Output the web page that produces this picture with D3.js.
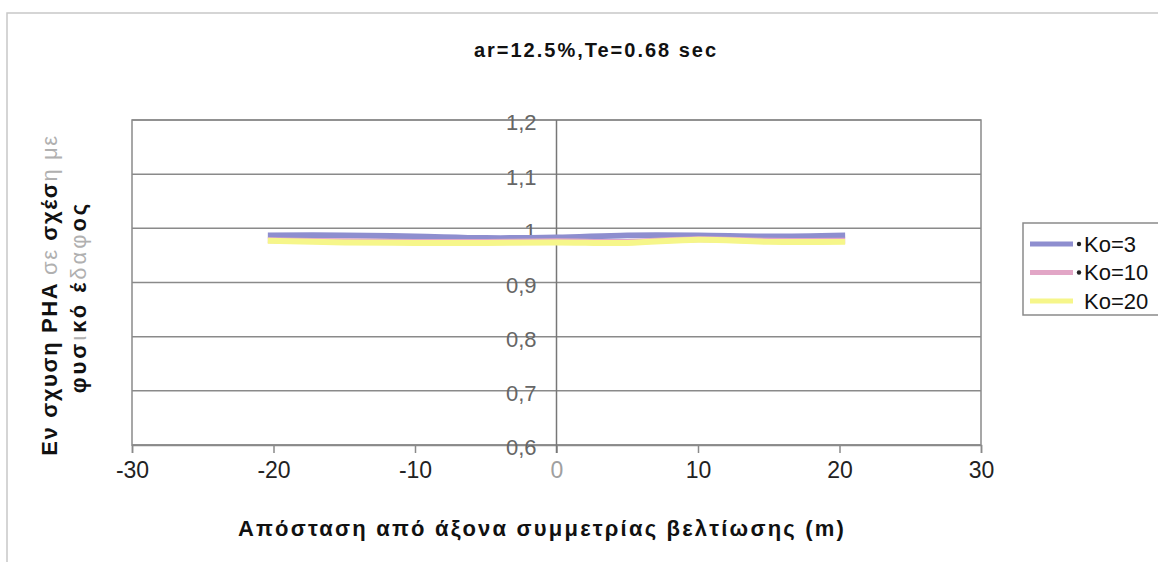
<!DOCTYPE html>
<html>
<head>
<meta charset="utf-8">
<script src="https://cdn.jsdelivr.net/npm/d3@7"></script>
<style>
  body { margin: 0; background: #fff; }
  svg { display: block; font-family: Arial, "Liberation Sans", sans-serif; }
</style>
</head>
<body>
<svg id="chart" width="1158" height="562"></svg>
<script>
// distances from the axis of symmetry (m)
var distances = [-20.4, -15, -10, -5, 0, 5, 10, 15, 20.4];
// ratio PHA improved / natural ground
var ko3 = [0.987, 0.987, 0.985, 0.982, 0.983, 0.987, 0.987, 0.985, 0.987];
var ko10 = [0.978, 0.976, 0.975, 0.975, 0.976, 0.975, 0.980, 0.977, 0.977];
var ko20 = [0.977, 0.974, 0.973, 0.973, 0.974, 0.973, 0.979, 0.975, 0.975];
var seriesNames = ["Ko=3", "Ko=10", "Ko=20"];
var seriesColors = ["#8e8ecf", "#e2a6c6", "#f6f68a"];
var xTicks = [-30, -20, -10, 0, 10, 20, 30];
var yTicks = [0.6, 0.7, 0.8, 0.9, 1, 1.1, 1.2];

var svg = d3.select("#chart");

// outer chart frame
svg.append("rect")
    .attr("x", 7).attr("y", 13)
    .attr("width", 1200).attr("height", 600)
    .attr("fill", "none")
    .attr("stroke", "#c8c8c8")
    .attr("stroke-width", 1.5);

var plotLeft = 132, plotRight = 981, plotTop = 120, plotBottom = 445;

var x = d3.scaleLinear().domain([-30, 30]).range([plotLeft, plotRight]);
var y = d3.scaleLinear().domain([0.6, 1.2]).range([plotBottom, plotTop]);

// horizontal gridlines
svg.append("g")
    .selectAll("line")
    .data(yTicks)
    .enter()
    .append("line")
    .attr("x1", plotLeft).attr("x2", plotRight)
    .attr("y1", d => y(d)).attr("y2", d => y(d))
    .attr("stroke", "#8a8a8a")
    .attr("stroke-width", 1.5);

// plot border
svg.append("rect")
    .attr("x", plotLeft).attr("y", plotTop)
    .attr("width", plotRight - plotLeft).attr("height", plotBottom - plotTop)
    .attr("fill", "none")
    .attr("stroke", "#8a8a8a")
    .attr("stroke-width", 1.5);

// x axis at the bottom
var xAxis = svg.append("g")
    .attr("transform", "translate(0," + plotBottom + ")")
    .call(d3.axisBottom(x).tickValues(xTicks).tickSize(8).tickFormat(d => String(d)));
xAxis.select(".domain").attr("stroke", "#8a8a8a").attr("stroke-width", 1.5);
xAxis.selectAll(".tick line").attr("stroke", "#8a8a8a").attr("stroke-width", 1.5);
xAxis.selectAll(".tick text")
    .attr("y", 17)
    .attr("dy", "0.71em")
    .style("font-size", "23px")
    .attr("fill", d => d === 0 ? "#a0a0a0" : "#222");

// y axis crossing at x = 0
var yAxis = svg.append("g")
    .attr("transform", "translate(" + x(0) + ",0)")
    .call(d3.axisLeft(y).tickValues(yTicks).tickSize(0).tickPadding(20)
        .tickFormat(d => d3.format(".1f")(d).replace(".0", "").replace(".", ",")));
yAxis.select(".domain").attr("stroke", "#777").attr("stroke-width", 1.5)
    .attr("d", "M0," + plotTop + "V" + (plotBottom + 8));
yAxis.selectAll(".tick text")
    .attr("dy", "0.45em")
    .style("font-size", "22px")
    .attr("fill", "#666");

// series lines
var line = d3.line()
    .x(d => x(d[0]))
    .y(d => y(d[1]))
    .curve(d3.curveCatmullRom);

[ko3, ko10, ko20].forEach((vals, i) => {
    svg.append("path")
        .datum(distances.map((d, j) => [d, vals[j]]))
        .attr("d", line)
        .attr("fill", "none")
        .attr("stroke", seriesColors[i])
        .attr("stroke-width", 6);
});

// title
svg.append("text")
    .attr("x", 596).attr("y", 57)
    .attr("text-anchor", "middle")
    .style("font-size", "20px")
    .style("font-weight", "bold")
    .style("letter-spacing", "2px")
    .attr("fill", "#111")
    .text("ar=12.5%,Te=0.68 sec");

// x axis title
svg.append("text")
    .attr("x", 542).attr("y", 536)
    .attr("text-anchor", "middle")
    .style("font-size", "22px")
    .style("font-weight", "bold")
    .style("letter-spacing", "2.2px")
    .attr("fill", "#111")
    .text("Απόσταση από άξονα συμμετρίας βελτίωσης (m)");

// y axis title, two lines, with the faded parts of the scan
var yTitle = svg.append("text")
    .attr("transform", "translate(57,295) rotate(-90)")
    .attr("text-anchor", "middle")
    .style("font-size", "22px")
    .style("font-weight", "bold")
    .style("letter-spacing", "1.6px")
    .attr("fill", "#111");
yTitle.append("tspan").text("Εν σχυση PHA ");
yTitle.append("tspan").attr("fill", "#b0b0b0").style("font-weight", "normal").text("σε");
yTitle.append("tspan").text(" σχέσ");
yTitle.append("tspan").attr("fill", "#b0b0b0").style("font-weight", "normal").text("η με");

var yTitle2 = svg.append("text")
    .attr("transform", "translate(86,297) rotate(-90)")
    .attr("text-anchor", "middle")
    .style("font-size", "22px")
    .style("font-weight", "bold")
    .style("letter-spacing", "3px")
    .attr("fill", "#111");
yTitle2.append("tspan").text("φυσ");
yTitle2.append("tspan").attr("fill", "#b0b0b0").style("font-weight", "normal").text("ι");
yTitle2.append("tspan").text("κό έ");
yTitle2.append("tspan").attr("fill", "#b0b0b0").style("font-weight", "normal").text("δαφ");
yTitle2.append("tspan").text("ος");

// legend
var legend = svg.append("g");
legend.append("rect")
    .attr("x", 1023).attr("y", 223)
    .attr("width", 200).attr("height", 92)
    .attr("fill", "#fff")
    .attr("stroke", "#8a8a8a")
    .attr("stroke-width", 1.5);

var items = legend.selectAll("g.item")
    .data(seriesNames)
    .enter()
    .append("g")
    .attr("transform", (d, i) => "translate(0," + (244 + i * 28.5) + ")");
items.append("line")
    .attr("x1", 1030).attr("x2", 1073)
    .attr("stroke", (d, i) => seriesColors[i])
    .attr("stroke-width", 5);
items.filter((d, i) => i < 2).append("circle")
    .attr("cx", 1079).attr("r", 2.2)
    .attr("fill", "#222");
items.append("text")
    .attr("x", 1084).attr("dy", "0.36em")
    .style("font-size", "22px")
    .attr("fill", "#111")
    .text(d => d);
</script>
</body>
</html>
